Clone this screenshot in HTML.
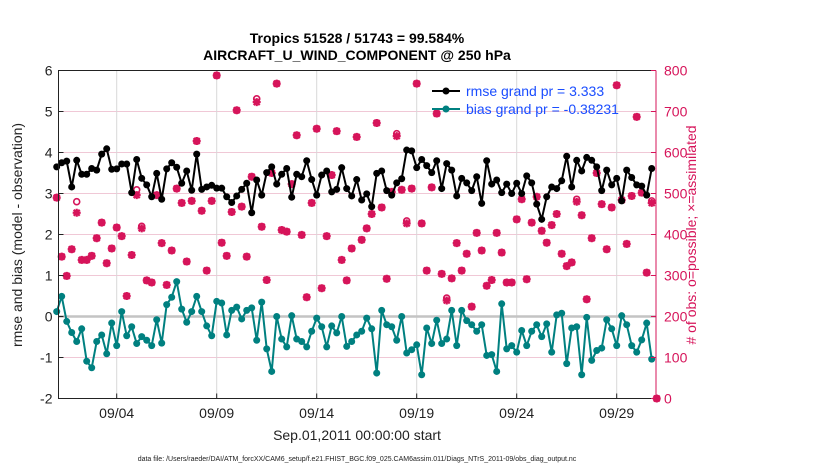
<!DOCTYPE html>
<html><head><meta charset="utf-8"><style>
body{margin:0;background:#fff;}
svg{display:block;font-family:"Liberation Sans",Arial,sans-serif;}
</style></head><body>
<svg id="chart" width="830" height="470" viewBox="0 0 830 470" xmlns="http://www.w3.org/2000/svg">
<text x="357" y="43" text-anchor="middle" font-size="14" font-weight="bold">Tropics 51528 / 51743 = 99.584%</text>
<text x="357" y="60" text-anchor="middle" font-size="14" font-weight="bold">AIRCRAFT_U_WIND_COMPONENT @ 250 hPa</text>
<g id="grid"></g>
<g id="marks"></g>
<g id="axes"></g>
<text transform="translate(22,235) rotate(-90)" text-anchor="middle" font-size="14" fill="#222">rmse and bias (model - observation)</text>
<text transform="translate(696,235) rotate(-90)" text-anchor="middle" font-size="14" fill="#d6145a"># of obs: o=possible; ×=assimilated</text>
<text x="357" y="440" text-anchor="middle" font-size="14" fill="#222">Sep.01,2011 00:00:00 start</text>
<text x="357" y="461" text-anchor="middle" font-size="7" fill="#222">data file: /Users/raeder/DAI/ATM_forcXX/CAM6_setup/f.e21.FHIST_BGC.f09_025.CAM6assim.011/Diags_NTrS_2011-09/obs_diag_output.nc</text>
<g>
<line x1="432" y1="91" x2="460" y2="91" stroke="#000" stroke-width="2"/><circle cx="446" cy="91" r="3.5" fill="#000"/>
<text x="466" y="96" font-size="14" fill="#1a4dff">rmse grand pr = 3.333</text>
<line x1="432" y1="109" x2="460" y2="109" stroke="#008080" stroke-width="2"/><circle cx="446" cy="109" r="3.5" fill="#008080"/>
<text x="466" y="114" font-size="14" fill="#1a4dff">bias grand pr = -0.38231</text>
</g>
</svg>
<script>
const dateTicks = ["09/04","09/09","09/14","09/19","09/24","09/29"];
const dateTickDays = [3,8,13,18,23,28];
const leftTicks = [-2,-1,0,1,2,3,4,5,6];
const rightTicks = [0,100,200,300,400,500,600,700,800];
const rmse = [3.65,3.75,3.79,3.16,3.81,3.47,3.47,3.61,3.57,3.96,4.09,3.59,3.60,3.72,3.72,3.02,3.83,3.37,3.21,2.92,3.49,2.86,3.60,3.75,3.64,3.25,3.55,3.08,3.96,3.10,3.16,3.20,3.13,3.13,2.92,2.78,2.94,3.10,3.25,2.53,3.33,2.96,
3.51,3.65,3.23,3.47,3.61,2.91,3.47,3.41,3.80,3.34,2.96,3.45,3.55,3.04,3.10,3.63,3.12,2.94,3.34,2.84,2.99,2.68,3.49,3.55,3.07,2.96,3.26,3.36,4.06,4.04,3.63,3.83,3.68,3.51,3.80,3.12,3.73,3.57,2.94,3.37,
3.26,3.07,3.41,2.76,3.80,3.23,3.33,3.02,3.23,3.00,3.25,3.00,3.43,3.26,2.74,2.37,2.92,3.16,3.12,3.31,3.91,3.16,3.81,3.55,3.88,3.81,3.65,3.07,3.57,3.21,3.37,2.82,3.57,3.39,3.21,3.18,2.96,3.61];
const bias = [0.12,0.49,-0.12,-0.39,-0.61,-0.30,-1.09,-1.25,-0.61,-0.45,-0.91,-0.16,-0.71,0.12,-0.47,-0.25,-0.66,-0.49,-0.58,-0.71,-0.08,-0.65,0.29,0.47,0.85,0.18,-0.14,0.12,0.49,0.12,-0.23,-0.47,0.37,0.33,-0.45,0.15,0.23,-0.06,0.15,0.21,-0.58,0.35,
-0.79,-1.34,0.00,-0.55,-0.74,0.02,-0.55,-0.61,-0.74,-0.36,-0.04,-0.25,-0.74,-0.23,-0.40,0.00,-0.73,-0.61,-0.45,-0.36,-0.04,-0.30,-1.38,0.15,-0.20,-0.25,-0.58,0.00,-0.89,-0.81,-0.69,-1.42,-0.28,-0.66,-0.09,-0.66,-0.55,0.15,-0.71,0.15,
-0.10,-0.20,-0.36,-0.20,-0.95,-0.93,-1.34,0.31,-0.79,-0.71,-0.87,-0.34,-0.71,-0.36,-0.20,-0.49,-0.18,-0.87,0.04,0.08,-1.15,-0.28,-0.25,-1.42,-0.02,-1.07,-0.83,-0.77,-0.08,-0.30,-0.71,0.02,-0.20,-0.71,-0.87,-0.57,-0.16,-1.04];
const nAssim = [490,346,299,364,453,338,338,348,391,429,330,366,417,396,250,350,496,415,288,283,496,379,277,361,512,477,334,482,628,458,312,482,788,380,348,455,703,468,346,541,723,419,
289,550,768,411,407,523,642,399,247,477,658,269,396,545,652,338,288,366,638,387,415,450,672,466,292,504,640,509,427,512,768,427,312,515,695,304,239,293,379,312,
353,224,404,361,275,289,404,356,283,283,437,486,291,429,492,409,380,423,450,353,323,332,480,447,242,391,550,474,364,466,764,484,377,494,687,502,307,477,0];
const nPoss = [490,346,299,364,480,338,338,348,391,429,330,366,417,396,250,350,509,420,288,283,496,379,277,361,512,477,334,482,628,458,312,482,788,380,348,455,703,468,346,541,731,419,
289,550,768,411,407,523,642,399,247,477,658,269,396,545,652,338,288,366,638,387,415,450,672,466,292,504,646,509,433,512,768,427,312,515,695,304,245,293,379,312,
353,224,404,361,275,289,404,356,283,283,437,486,291,429,492,409,380,423,450,353,323,332,486,447,242,391,550,474,364,466,764,484,377,494,687,502,307,482,0];
const stepDays = 0.25;

const NS="http://www.w3.org/2000/svg";
const X0=58.5,X1=656,Y0=398.5,Y1=70.5;
function xs(t){return 56.7+20*t;}
function yl(v){return Y0-(v+2)*(Y0-Y1)/8;}
function yr(n){return Y0-n*(Y0-Y1)/800;}
function mk(tag,attrs,parent){const e=document.createElementNS(NS,tag);for(const k in attrs)e.setAttribute(k,attrs[k]);parent.appendChild(e);return e;}
const grid=document.getElementById('grid'),marks=document.getElementById('marks'),axes=document.getElementById('axes');
rightTicks.forEach(n=>{const l=mk('line',{x1:X0,x2:X1,y1:yr(n),y2:yr(n),stroke:'#f0c8d6','stroke-width':1},grid);

});
dateTickDays.forEach(d=>{const l=mk('line',{x1:xs(d),x2:xs(d),y1:Y1,y2:Y0,stroke:'#d8d8d8','stroke-width':1},grid);

});
const zl=mk('line',{x1:X0,x2:X1,y1:yl(0),y2:yl(0),stroke:'#c4c4c4','stroke-width':2.5},grid);


// obs counts
const cg=mk('g',{},marks);


nAssim.forEach((n,i)=>{const x=xs(i*stepDays);const y=yr(n);const yp=yr(nPoss[i]);
const c=mk('circle',{cx:x,cy:yp,r:3,fill:'none',stroke:'#d6145a','stroke-width':1.6},cg);


const s=mk('path',{d:`M${x-4},${y}H${x+4}M${x},${y-4}V${y+4}M${x-3},${y-3}L${x+3},${y+3}M${x-3},${y+3}L${x+3},${y-3}`,stroke:'#d6145a','stroke-width':2.2},cg);

});
function series(vals,color,name){const g=mk('g',{},marks);


const pts=vals.map((v,i)=>xs(i*stepDays).toFixed(1)+','+yl(v).toFixed(1)).join(' ');
const pl=mk('polyline',{points:pts,fill:'none',stroke:color,'stroke-width':2},g);


vals.forEach((v,i)=>{const c=mk('circle',{cx:xs(i*stepDays),cy:yl(v),r:3.5,fill:color},g);

});}
series(rmse,'#000','rmse');
series(bias,'#008080','bias');
// axes
const ab=mk('path',{d:`M${X1},${Y1}H${X0}V${Y0}H${X1}`,fill:'none',stroke:'#222','stroke-width':1},axes);


const ra=mk('line',{x1:X1,x2:X1,y1:Y1,y2:Y0,stroke:'#d6145a','stroke-width':1},axes);


leftTicks.forEach(v=>{const y=yl(v);mk('line',{x1:X0,x2:X0+5,y1:y,y2:y,stroke:'#222'},axes);
const t=mk('text',{x:X0-6,y:y+5,'text-anchor':'end','font-size':14,fill:'#222'},axes);t.textContent=v;

});
rightTicks.forEach(n=>{const y=yr(n);mk('line',{x1:X1-5,x2:X1,y1:y,y2:y,stroke:'#d6145a'},axes);
const t=mk('text',{x:X1+8,y:y+5,'font-size':14,fill:'#d6145a'},axes);t.textContent=n;

});
dateTicks.forEach((lab,i)=>{const x=xs(dateTickDays[i]);mk('line',{x1:x,x2:x,y1:Y0,y2:Y0-5,stroke:'#222'},axes);
const t=mk('text',{x:x,y:418,'text-anchor':'middle','font-size':14,fill:'#222'},axes);t.textContent=lab;

});
</script>
</body></html>
